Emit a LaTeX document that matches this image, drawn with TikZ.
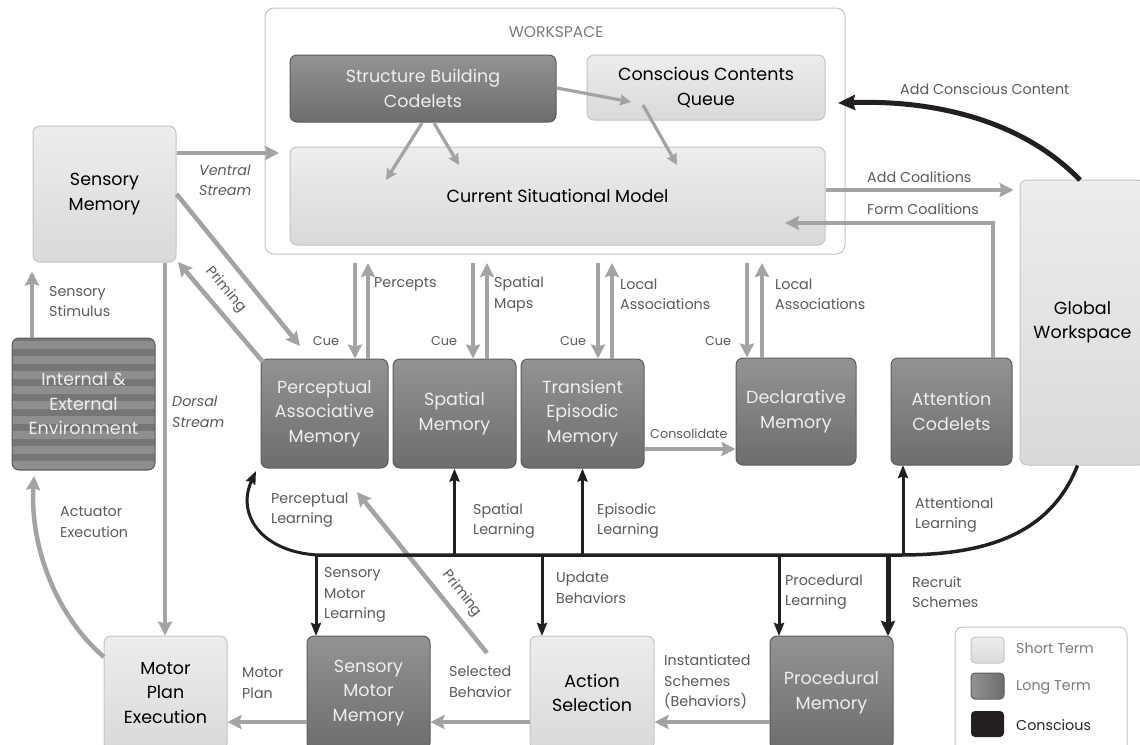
\documentclass[tikz,border=0pt]{standalone}
\usepackage{fontspec}
\setmainfont{Poppins}
\usetikzlibrary{arrows.meta}
\definecolor{lightA}{HTML}{EDEDED}
\definecolor{lightB}{HTML}{D9D9D9}
\definecolor{lightD}{HTML}{C4C4C4}
\definecolor{darkA}{HTML}{939393}
\definecolor{darkB}{HTML}{6D6D6D}
\definecolor{darkD}{HTML}{5C5C5C}
\definecolor{stripeL}{HTML}{8E8E8E}
\definecolor{stripeD}{HTML}{767676}
\definecolor{arrowgray}{HTML}{A3A3A3}
\definecolor{labelgray}{HTML}{5A5A5A}
\definecolor{consc}{HTML}{231F20}
\definecolor{boxtext}{HTML}{EEEEEE}
\newcommand{\lidaboxfont}{\fontsize{17.5}{24.5}\selectfont}
\newcommand{\lidalblfont}{\fontsize{14.3}{20.5}\selectfont}
\newcommand{\lidacuefont}{\fontsize{12.8}{16}\selectfont}
\begin{document}
\begin{tikzpicture}[x=1pt,y=-1pt,
  stm/.style={draw=lightD, line width=1pt, rounded corners=7pt, top color=lightA, bottom color=lightB, text=black, font=\lidaboxfont, align=center, inner sep=0pt},
  ltm/.style={draw=darkD, line width=1pt, rounded corners=7pt, top color=darkA, bottom color=darkB, text=boxtext, font=\lidaboxfont, align=center, inner sep=0pt},
  wsbox/.style={draw=lightD, line width=1pt, rounded corners=9pt, fill=white, inner sep=0pt},
  envbox/.style={draw=darkD, line width=1pt, rounded corners=7pt, text=boxtext, font=\lidaboxfont, align=center, inner sep=0pt},
  lbl/.style={text=labelgray, font=\lidalblfont, align=left, inner sep=0pt, anchor=west},
  ilbl/.style={lbl, font=\lidalblfont\itshape},
  rlbl/.style={text=labelgray, font=\lidalblfont, inner sep=0pt},
  cuelbl/.style={text=labelgray, font=\lidacuefont, inner sep=0pt},
  garrow/.style={draw=arrowgray, line width=4.5pt, -{Stealth[length=14pt,width=14pt,inset=2pt]}},
  gthin/.style={draw=arrowgray, line width=3.2pt, -{Stealth[length=11pt,width=11pt,inset=1.5pt]}},
  barrow/.style={draw=consc, line width=3pt, -{Stealth[length=13pt,width=10pt,inset=1.5pt]}},
  bthick/.style={draw=consc, line width=5pt, -{Stealth[length=17pt,width=15pt,inset=2pt]}},
  bline/.style={draw=consc, line width=3.5pt}
]
\clip (0,0) rectangle (1140,744);
\fill[white] (0,0) rectangle (1140,744);

% ---------- workspace ----------
\node[wsbox, minimum width=580pt, minimum height=246pt] (ws) at (555,131) {};
\node[text=labelgray!80, font=\fontsize{15.5}{18}\selectfont, inner sep=0pt] (wst) at (556,32) {WORKSPACE};
\node[ltm, minimum width=266pt, minimum height=67pt] (sbc) at (423,88.5) {Structure Building\\Codelets};
\node[stm, minimum width=238pt, minimum height=65pt] (ccq) at (706,87.5) {Conscious Contents\\Queue};
\node[stm, minimum width=535pt, minimum height=98pt] (csm) at (557.5,196) {Current Situational Model};

% ---------- left column ----------
\node[stm, minimum width=143pt, minimum height=136pt] (sm) at (104.5,194) {Sensory\\Memory};
\begin{scope}
  \clip[rounded corners=7pt] (12,338) rectangle (155,470);
  \fill[stripeD] (12,338) rectangle (155,470);
  \foreach \k in {0,...,8} {\fill[stripeL] (12,{341+\k*15}) rectangle (155,{349+\k*15});}
\end{scope}
\node[envbox, minimum width=143pt, minimum height=132pt] (env) at (83.5,404) {Internal \&\\External\\Environment};

% ---------- memories ----------
\node[ltm, minimum width=127pt, minimum height=109pt] (pam) at (324.5,413.5) {Perceptual\\Associative\\Memory};
\node[ltm, minimum width=123pt, minimum height=109pt] (spm) at (454.5,413.5) {Spatial\\Memory};
\node[ltm, minimum width=123pt, minimum height=109pt] (tem) at (582.5,413.5) {Transient\\Episodic\\Memory};
\node[ltm, minimum width=120pt, minimum height=107pt] (dm) at (796,411.5) {Declarative\\Memory};
\node[ltm, minimum width=121pt, minimum height=107pt] (ac) at (951.5,411.5) {Attention\\Codelets};
\node[stm, minimum width=125pt, minimum height=285pt] (gw) at (1082.5,322.5) {Global\\Workspace};

% ---------- bottom row ----------
\node[stm, minimum width=123pt, minimum height=114pt] (mpe) at (165.5,693) {Motor\\Plan\\Execution};
\node[ltm, minimum width=123pt, minimum height=114pt] (smm) at (368.5,693) {Sensory\\Motor\\Memory};
\node[stm, minimum width=124pt, minimum height=114pt] (as) at (592,693) {Action\\Selection};
\node[ltm, minimum width=123pt, minimum height=114pt] (pm) at (831.5,693) {Procedural\\Memory};

% ---------- legend ----------
\node[wsbox, rounded corners=8pt, minimum width=172pt, minimum height=128pt] (leg) at (1041,691) {};
\node[stm, rounded corners=4pt, minimum width=33pt, minimum height=26pt] (swS) at (987.5,650) {};
\node[draw=darkD, line width=1pt, rounded corners=4pt, left color=darkA, right color=darkB, minimum width=33pt, minimum height=26pt, inner sep=0pt] (swL) at (987.5,686) {};
\node[fill=consc, rounded corners=4pt, minimum width=33pt, minimum height=26pt, inner sep=0pt] (swC) at (987.5,724) {};
\node[lbl, text=labelgray!80] (lS) at (1016,648) {Short Term};
\node[lbl, text=labelgray!80] (lL) at (1016,687) {Long Term};
\node[lbl, text=black!85] (lC) at (1016,725) {Conscious};

% ---------- coordinates ----------
\coordinate (ventT) at (279,153);
\coordinate (cueT) at (300,346);
\coordinate (prA) at (263,362);
\coordinate (prT) at (178,262);
\coordinate (dorsX) at (165,0);
\coordinate (stimX) at (32,0);
\coordinate (actS) at (104,657);
\coordinate (actT) at (34,476);
\coordinate (c1) at (355,263);
\coordinate (p1) at (368,263);
\coordinate (c2) at (473,263);
\coordinate (p2) at (487,263);
\coordinate (c3) at (598,263);
\coordinate (p3) at (612,263);
\coordinate (c4) at (747,263);
\coordinate (p4) at (762,263);
\coordinate (consY) at (0,449);
\coordinate (acY) at (0,190);
\coordinate (fcX) at (993,0);
\coordinate (fcY) at (0,223);
\coordinate (fcT) at (785,223);
\coordinate (accS) at (1080,180);
\coordinate (accT) at (838,103);
\coordinate (sb1) at (422,123);
\coordinate (sb1T) at (386,180);
\coordinate (sb2) at (434,123);
\coordinate (sb2T) at (459,165);
\coordinate (sb3) at (557,88);
\coordinate (sb3T) at (631,102);
\coordinate (cq1) at (643,105);
\coordinate (cq1T) at (677,165);
\coordinate (bY) at (0,722);
\coordinate (pr2S) at (487,653);
\coordinate (pr2T) at (357,492);
\coordinate (busL) at (318,555);
\coordinate (busR) at (900,555);
\coordinate (acB) at (903,465);
\coordinate (smB) at (316,636);
\coordinate (asB) at (542,636);
\coordinate (pmB1) at (779,636);
\coordinate (pmB2) at (888,636);

% ---------- gray connectors ----------
\draw[garrow] (sm.east |- ventT) -- (ventT);
\draw[garrow] (sm.east) -- (cueT);
\draw[garrow] (prA) -- (prT);
\draw[garrow] (sm.south -| dorsX) -- (mpe.north -| dorsX);
\draw[garrow, shorten >=9pt] (env.north -| stimX) -- (sm.south -| stimX);
\draw[garrow] (actS) .. controls (55,615) and (30,545) .. (actT);
\draw[garrow] (c1) -- (c1 |- pam.north);
\draw[garrow] (p1 |- pam.north) -- (p1);
\draw[garrow] (c2) -- (c2 |- spm.north);
\draw[garrow] (p2 |- spm.north) -- (p2);
\draw[garrow] (c3) -- (c3 |- tem.north);
\draw[garrow] (p3 |- tem.north) -- (p3);
\draw[garrow] (c4) -- (c4 |- dm.north);
\draw[garrow] (p4 |- dm.north) -- (p4);
\draw[garrow] (tem.east |- consY) -- (dm.west |- consY);
\draw[garrow, shorten >=6pt] (csm.east |- acY) -- (gw.west |- acY);
\draw[garrow] (ac.north -| fcX) -- (fcX |- fcY) -- (fcT);
\draw[gthin] (sb1) -- (sb1T);
\draw[gthin] (sb2) -- (sb2T);
\draw[gthin] (sb3) -- (sb3T);
\draw[gthin] (cq1) -- (cq1T);
\draw[garrow] (as.west |- bY) -- (smm.east |- bY);
\draw[garrow] (smm.west |- bY) -- (mpe.east |- bY);
\draw[garrow] (pm.west |- bY) -- (as.east |- bY);
\draw[garrow] (pr2S) -- (pr2T);

% ---------- conscious broadcast ----------
\draw[bthick] (accS) .. controls (1020,118) and (930,100) .. (accT);
\draw[bline] ([xshift=-5pt]gw.south) .. controls (1050,535) and (985,555) .. (busR) -- (busL);
\draw[barrow] (busL) .. controls (262,552) and (236,515) .. (256,471);
\draw[barrow] (busL -| spm.south) -- (spm.south);
\draw[barrow] (busL -| tem.south) -- (tem.south);
\draw[barrow] (busL -| acB) -- (acB);
\draw[barrow] (busL -| smB) -- (smB);
\draw[barrow] (busL -| asB) -- (asB);
\draw[barrow] (busL -| pmB1) -- (pmB1);
\draw[bthick, -{Stealth[length=15pt,width=14pt,inset=2pt]}] (busL -| pmB2) -- (pmB2);

% ---------- labels ----------
\node[ilbl] (lv) at (199,180.5) {Ventral\\Stream};
\node[ilbl] (ld) at (172,412) {Dorsal\\Stream};
\node[lbl] (lst) at (49,301.5) {Sensory\\Stimulus};
\node[rlbl, rotate=-50] (lpr) at (226,290) {Priming};
\node[cuelbl] (q1) at (326,341) {Cue};
\node[cuelbl] (q2) at (444,341) {Cue};
\node[cuelbl] (q3) at (573,341) {Cue};
\node[cuelbl] (q4) at (718,341) {Cue};
\node[lbl] (lpc) at (374,284) {Percepts};
\node[lbl] (lsm) at (494,294.5) {Spatial\\Maps};
\node[lbl] (lla1) at (620,294.5) {Local\\Associations};
\node[lbl] (lla2) at (775,294.5) {Local\\Associations};
\node[cuelbl, anchor=west] (lcons) at (650,434) {Consolidate};
\node[lbl] (lacc) at (900,89) {Add Conscious Content};
\node[lbl] (ladc) at (867,177) {Add Coalitions};
\node[lbl] (lfc) at (867,209) {Form Coalitions};
\node[lbl] (lae) at (60,522) {Actuator\\Execution};
\node[lbl] (lpl) at (271,510) {Perceptual\\Learning};
\node[lbl] (lsl) at (473,521) {Spatial\\Learning};
\node[lbl] (lel) at (597,521) {Episodic\\Learning};
\node[lbl] (lal) at (915,515) {Attentional\\Learning};
\node[lbl] (lsml) at (324,595) {Sensory\\Motor\\Learning};
\node[lbl] (lub) at (556,588) {Update\\Behaviors};
\node[lbl] (lprl) at (785,592) {Procedural\\Learning};
\node[lbl] (lrs) at (912,592) {Recruit\\Schemes};
\node[rlbl, rotate=-52] (lpr2) at (462,594) {Priming};
\node[lbl] (lmp) at (242,683) {Motor\\Plan};
\node[lbl] (lsb) at (449,682) {Selected\\Behavior};
\node[lbl] (lis) at (664,682) {Instantiated\\Schemes\\(Behaviors)};
\end{tikzpicture}
\end{document}
